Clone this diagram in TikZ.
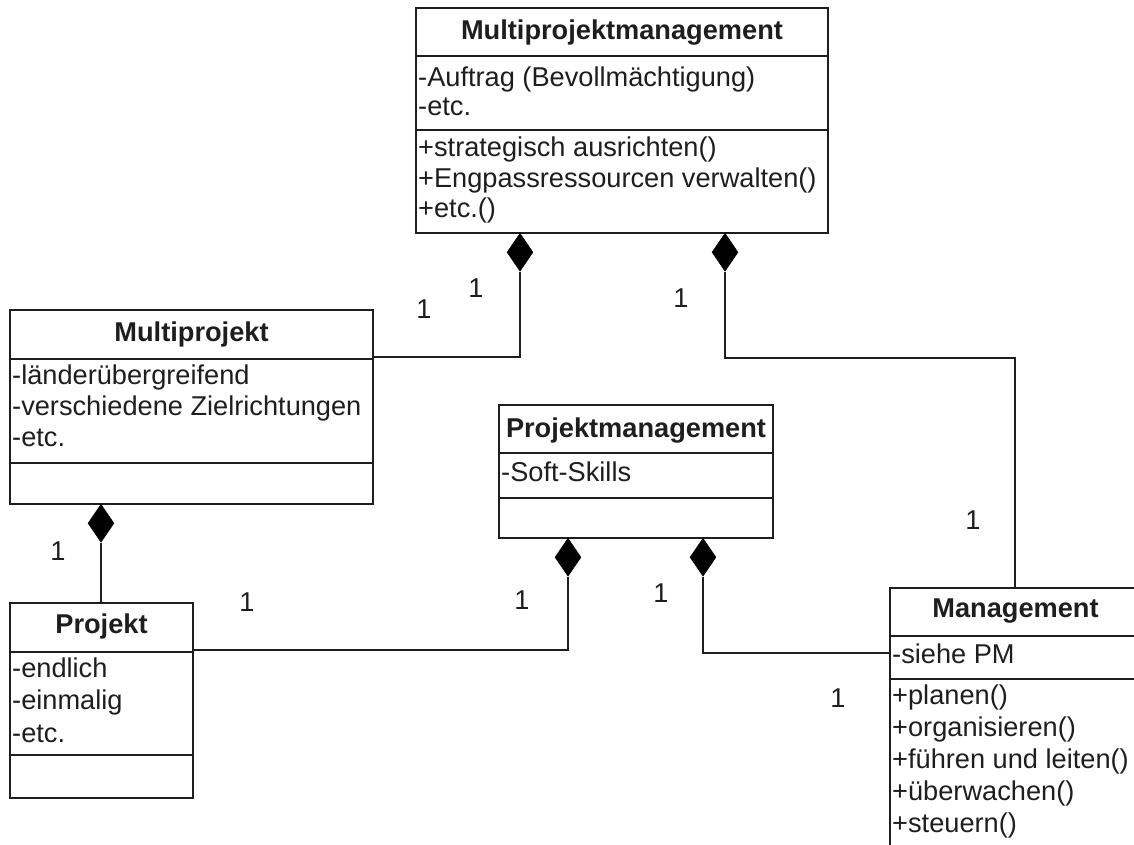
\documentclass[tikz,border=0pt]{standalone}
\usepackage{fontspec}
\setmainfont{Liberation Sans}
\usetikzlibrary{shapes.geometric}
\definecolor{ink}{RGB}{30,30,30}
\tikzset{
  umlbox/.style={draw=ink, line width=2pt, fill=white, inner sep=0pt},
  sepline/.style={draw=ink, line width=2pt},
  conn/.style={draw=ink, line width=2pt},
  comp/.style={diamond, fill=black, draw=black, line width=0.5pt, inner sep=0pt,
               minimum width=26pt, minimum height=38pt, anchor=north},
  cname/.style={font=\fontsize{27.2}{30}\selectfont\bfseries, text=ink, inner sep=0pt, anchor=base},
  member/.style={font=\fontsize{27.2}{30}\selectfont, text=ink, inner sep=0pt, anchor=base west},
  mult/.style={font=\fontsize{27.2}{30}\selectfont, text=ink, inner sep=0pt},
}
\begin{document}
\begin{tikzpicture}[x=1pt,y=-1pt]
\useasboundingbox (0,0) rectangle (1134,845);
\clip (0,0) rectangle (1134,845);

% class boxes
\node[umlbox, minimum width=412pt, minimum height=225pt] (mpm) at (622,120.5) {};
\node[umlbox, minimum width=363pt, minimum height=194pt] (mp)  at (191.5,407) {};
\node[umlbox, minimum width=274pt, minimum height=133pt] (pm)  at (636,471.5) {};
\node[umlbox, minimum width=183pt, minimum height=195pt] (pj)  at (101.5,700.5) {};
\node[umlbox, minimum width=251pt, minimum height=292pt] (mg)  at (1015.5,734) {};

% compartment separators
\draw[sepline] (mpm.west |- 0,56)  -- (mpm.east |- 0,56);
\draw[sepline] (mpm.west |- 0,130) -- (mpm.east |- 0,130);
\draw[sepline] (mp.west |- 0,359)  -- (mp.east |- 0,359);
\draw[sepline] (mp.west |- 0,463)  -- (mp.east |- 0,463);
\draw[sepline] (pm.west |- 0,453)  -- (pm.east |- 0,453);
\draw[sepline] (pm.west |- 0,498)  -- (pm.east |- 0,498);
\draw[sepline] (pj.west |- 0,652)  -- (pj.east |- 0,652);
\draw[sepline] (pj.west |- 0,755)  -- (pj.east |- 0,755);
\draw[sepline] (mg.west |- 0,636)  -- (mg.east |- 0,636);
\draw[sepline] (mg.west |- 0,679)  -- (mg.east |- 0,679);

% Multiprojektmanagement
\node[cname] (mpmT) at (622,40) {Multiprojektmanagement};
\node[member] (mpmA1) at (418,87)  {-Auftrag (Bevollmächtigung)};
\node[member] (mpmA2) at (418,116) {-etc.};
\node[member] (mpmO1) at (418,157) {+strategisch ausrichten()};
\node[member] (mpmO2) at (418,187) {+Engpassressourcen verwalten()};
\node[member] (mpmO3) at (418,217) {+etc.()};

% Multiprojekt
\node[cname] (mpT) at (191.5,341) {Multiprojekt};
\node[member] (mpA1) at (12,384) {-länderübergreifend};
\node[member] (mpA2) at (12,415) {-verschiedene Zielrichtungen};
\node[member] (mpA3) at (12,446) {-etc.};

% Projektmanagement
\node[cname] (pmT) at (636,437) {Projektmanagement};
\node[member] (pmA1) at (501,481) {-Soft-Skills};

% Projekt
\node[cname] (pjT) at (101.5,633) {Projekt};
\node[member] (pjA1) at (12,677) {-endlich};
\node[member] (pjA2) at (12,709) {-einmalig};
\node[member] (pjA3) at (12,742) {-etc.};

% Management
\node[cname] (mgT) at (1015.5,617) {Management};
\node[member] (mgA1) at (892,663) {-siehe PM};
\node[member] (mgO1) at (892,704) {+planen()};
\node[member] (mgO2) at (892,736) {+organisieren()};
\node[member] (mgO3) at (892,768) {+führen und leiten()};
\node[member] (mgO4) at (892,800) {+überwachen()};
\node[member] (mgO5) at (892,832) {+steuern()};

% composition diamonds
\node[comp] (d1) at (520,233) {};
\node[comp] (d2) at (725,233) {};
\node[comp] (d3) at (101,504) {};
\node[comp] (d4) at (568,538) {};
\node[comp] (d5) at (703,538) {};

% bend points
\coordinate (k2) at (1015,358);

% connectors
\draw[conn] (d1.south) |- (mp.east |- 0,357);
\draw[conn] (d2.south) |- (k2) -- (k2 |- mg.north);
\draw[conn] (d3.south) -- (d3.south |- pj.north);
\draw[conn] (d4.south) |- (pj.east |- 0,650);
\draw[conn] (d5.south) |- (mg.west |- 0,653);

% multiplicities
\node[mult] (m1) at (424,309) {1};
\node[mult] (m2) at (476,288) {1};
\node[mult] (m3) at (681,298) {1};
\node[mult] (m4) at (973,520) {1};
\node[mult] (m5) at (58,551)  {1};
\node[mult] (m6) at (247,602) {1};
\node[mult] (m7) at (522,600) {1};
\node[mult] (m8) at (661,593) {1};
\node[mult] (m9) at (838,698) {1};
\end{tikzpicture}
\end{document}
